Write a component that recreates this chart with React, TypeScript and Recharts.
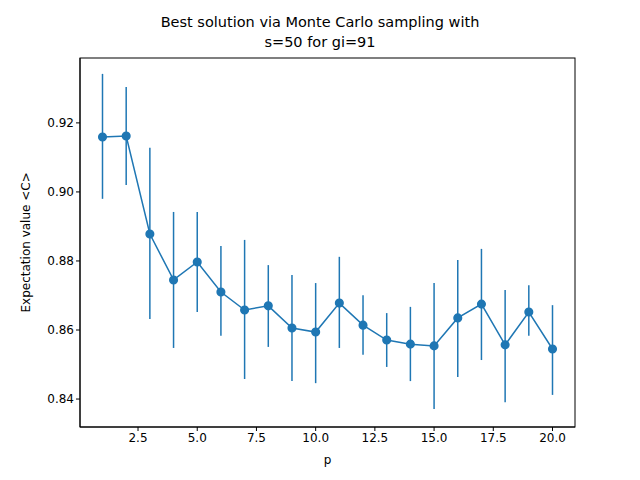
import { ComposedChart, Line, XAxis, YAxis, ErrorBar } from 'recharts'

const ps = [1, 2, 3, 4, 5, 6, 7, 8, 9, 10, 11, 12, 13, 14, 15, 16, 17, 18, 19, 20]
const means = [0.9159, 0.9162, 0.8878, 0.8745, 0.8797, 0.871, 0.8658, 0.867, 0.8606, 0.8594, 0.8678, 0.8614, 0.8571, 0.8559, 0.8554, 0.8635, 0.8675, 0.8557, 0.8652, 0.8545]
const highs = [0.9342, 0.9304, 0.9128, 0.8942, 0.8942, 0.8843, 0.8861, 0.8788, 0.8759, 0.8736, 0.8812, 0.8701, 0.8649, 0.8667, 0.8736, 0.8803, 0.8835, 0.8716, 0.873, 0.8672]
const lows = [0.898, 0.902, 0.8632, 0.8548, 0.8652, 0.8583, 0.8458, 0.8551, 0.8452, 0.8446, 0.8548, 0.8528, 0.8493, 0.8452, 0.8371, 0.8464, 0.8513, 0.8391, 0.8583, 0.8412]
const xTicks = [2.5, 5, 7.5, 10, 12.5, 15, 17.5, 20]
const yTicks = [0.84, 0.86, 0.88, 0.9, 0.92]

const data = ps.map((p, i) => ({
  p,
  v: means[i],
  err: [means[i] - lows[i], highs[i] - means[i]],
}))

const font = 'DejaVu Sans'
const tick = { fontSize: 12, fill: '#000', fontFamily: font }

export default function App() {
  return (
    <div style={{ position: 'absolute', left: 0, top: 0, width: 640, height: 480, background: '#fff' }}>
      <div style={{ position: 'absolute', top: 12, width: 640, textAlign: 'center', fontFamily: font, fontSize: 14.5, lineHeight: '20px' }}>
        Best solution via Monte Carlo sampling with<br />s=50 for gi=91
      </div>
      <ComposedChart width={640} height={480} data={data} margin={{ top: 58, right: 65, left: 0, bottom: 0 }}>
        <XAxis
          dataKey="p"
          type="number"
          domain={[0.05, 20.95]}
          ticks={xTicks}
          tickFormatter={(v) => v.toFixed(1)}
          tick={tick}
          height={53}
          stroke="#000"
          tickSize={4}
          label={{ value: 'p', position: 'insideBottom', offset: 16, fontSize: 12, fill: '#000', fontFamily: font }}
        />
        <YAxis
          type="number"
          domain={[0.8319, 0.9388]}
          ticks={yTicks}
          tickFormatter={(v) => v.toFixed(2)}
          tick={tick}
          width={80}
          stroke="#000"
          tickSize={4}
          label={{ value: 'Expectation value <C>', angle: -90, position: 'insideLeft', offset: 26, dy: 70, fontSize: 12, fill: '#000', fontFamily: font }}
        />
        <Line
          dataKey="v"
          stroke="#1f77b4"
          strokeWidth={1.5}
          dot={{ r: 3.8, fill: '#1f77b4', stroke: '#1f77b4' }}
          isAnimationActive={false}
        >
          <ErrorBar dataKey="err" width={0} stroke="#1f77b4" strokeWidth={1.5} direction="y" />
        </Line>
        <rect x={80} y={58} width={495} height={369} fill="none" stroke="#000" strokeWidth={1} />
      </ComposedChart>
    </div>
  )
}
